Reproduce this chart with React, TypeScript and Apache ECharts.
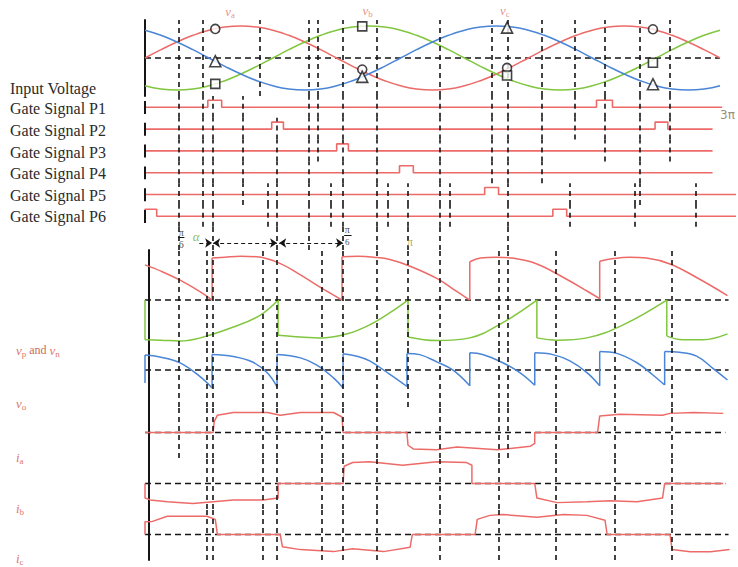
import React, { useEffect, useRef } from "react";
import * as echarts from "echarts";

// ωt sample points (degrees) for the three supply phases
const supplyAngles = [0, 15, 30, 45, 60, 75, 90, 105, 120, 135, 150, 165, 180, 195, 210, 225, 240, 255, 270, 285, 300, 315, 330, 345, 360, 375, 390, 405, 420, 435, 450, 465, 480, 495, 510, 525, 540];
const vaSupply = [0, 0.26, 0.5, 0.71, 0.87, 0.97, 1, 0.97, 0.87, 0.71, 0.5, 0.26, 0, -0.26, -0.5, -0.71, -0.87, -0.97, -1, -0.97, -0.87, -0.71, -0.5, -0.26, 0, 0.26, 0.5, 0.71, 0.87, 0.97, 1, 0.97, 0.87, 0.71, 0.5, 0.26, 0];
const vbSupply = [-0.87, -0.97, -1, -0.97, -0.87, -0.71, -0.5, -0.26, 0, 0.26, 0.5, 0.71, 0.87, 0.97, 1, 0.97, 0.87, 0.71, 0.5, 0.26, 0, -0.26, -0.5, -0.71, -0.87, -0.97, -1, -0.97, -0.87, -0.71, -0.5, -0.26, 0, 0.26, 0.5, 0.71, 0.87];
const vcSupply = [0.87, 0.71, 0.5, 0.26, 0, -0.26, -0.5, -0.71, -0.87, -0.97, -1, -0.97, -0.87, -0.71, -0.5, -0.26, 0, 0.26, 0.5, 0.71, 0.87, 0.97, 1, 0.97, 0.87, 0.71, 0.5, 0.26, 0, -0.26, -0.5, -0.71, -0.87, -0.97, -1, -0.97, -0.87];

// firing instants marked on the supply curves: [ωt, value]
const circleMarks = [[66, 0.91], [204, -0.36], [340, -0.31], [477, 0.9]];
const squareMarks = [[66, -0.81], [204, 0.99], [340, -0.55], [477, -0.15]];
const triangleMarks = [[66, -0.1], [204, -0.59], [340, 0.95], [477, -0.82]];

// gate pulses: [start, end] in degrees, and where each gate trace stops
const gateP1 = [[59, 72], [424, 439]];
const gateP2 = [[119, 130], [479, 491]];
const gateP3 = [[180, 191]];
const gateP4 = [[239, 252]];
const gateP5 = [[319, 332]];
const gateP6 = [[0, 11], [383, 396]];
const gateEnds = [542, 533, 533, 533, 555, 555];
const gateNames = ["P1", "P2", "P3", "P4", "P5", "P6"];

// positive and negative rail voltages, output voltage: [ωt, value]; a repeated ωt is a commutation jump
const railP = [[0, 0.78], [15, 0.64], [33, 0.44], [52, 0.18], [63, 0], [63, 0.93], [75, 0.95], [90, 0.97], [105, 0.96], [124, 0.84], [146, 0.56], [164, 0.29], [185, 0], [185, 0.96], [200, 0.97], [215, 0.95], [230, 0.9], [249, 0.75], [274, 0.48], [289, 0.25], [305, 0], [305, 0.85], [315, 0.93], [330, 0.95], [345, 0.93], [368, 0.8], [393, 0.5], [415, 0.2], [427, 0.03], [427, 0.86], [440, 0.92], [455, 0.95], [471, 0.93], [493, 0.8], [518, 0.5], [547, 0.1]];
const railN = [[0, 0], [0, -0.88], [15, -0.89], [33, -0.91], [52, -0.84], [83, -0.6], [108, -0.34], [125, 0], [125, -0.78], [146, -0.82], [167, -0.84], [190, -0.75], [211, -0.55], [230, -0.28], [247, 0], [247, -0.82], [274, -0.9], [305, -0.84], [336, -0.5], [368, 0], [368, -0.84], [387, -0.89], [415, -0.84], [449, -0.55], [490, 0], [490, -0.8], [505, -0.88], [524, -0.88], [547, -0.75]];
const outputV = [[0, -0.72], [0, 0.83], [14, 0.72], [33, 0.39], [52, -0.39], [63, -1], [63, 0.86], [83, 0.75], [101, 0.44], [115, -0.17], [124, -0.94], [124, 0.86], [146, 0.67], [161, 0.28], [177, -0.44], [186, -1], [186, 0.9], [200, 0.75], [211, 0.5], [230, -0.25], [246, -0.92], [246, 0.92], [258, 0.85], [274, 0.45], [289, 0], [305, -0.88], [305, 0.95], [317, 0.86], [336, 0.4], [352, -0.15], [366, -0.85], [366, 0.95], [383, 0.85], [399, 0.5], [415, -0.15], [427, -0.88], [427, 1.02], [443, 0.92], [462, 0.4], [477, -0.28], [488, -0.84], [488, 1.02], [502, 0.98], [518, 0.77], [533, 0.1], [547, -0.56]];

// phase currents: [ωt, value]
const currentA = [[0, 0], [64, 0], [65, 0.6], [68, 0.95], [83, 1.1], [115, 1.1], [127, 0.95], [146, 1.1], [177, 1.1], [185, 0.85], [186, 0], [246, 0], [247, -0.7], [252, -0.9], [274, -0.95], [293, -0.8], [331, -0.95], [362, -0.75], [366, -0.6], [366, 0], [425, 0], [427, 0.9], [446, 1.0], [486, 0.95], [493, 1.05], [515, 1.1], [543, 1.05]];
const currentB = [[0, 0], [0, -0.8], [5, -0.9], [21, -1.0], [45, -1.1], [83, -0.9], [111, -0.9], [125, -0.8], [125, 0], [186, 0], [187, 0.95], [195, 1.15], [211, 1.2], [242, 1.0], [274, 1.2], [302, 1.15], [307, 1.0], [307, 0], [366, 0], [368, -0.8], [387, -1.05], [415, -1.0], [437, -0.95], [462, -1.0], [486, -0.8], [488, 0], [543, 0]];
const currentC = [[0, 0], [0, 0.7], [7, 0.72], [21, 1.0], [45, 1.0], [58, 1.0], [66, 0.83], [68, 0], [127, 0], [129, -0.67], [146, -0.83], [177, -0.94], [195, -0.78], [224, -0.94], [249, -0.7], [251, 0], [310, 0], [312, 0.83], [324, 1.05], [336, 1.1], [368, 0.95], [393, 1.1], [415, 1.05], [432, 0.78], [434, 0], [493, 0], [495, -0.83], [512, -0.95], [531, -0.95], [549, -0.83]];

// dashed vertical guides: [ωt, first strip, last strip]
const guides = [
  [32, 0, 10], [54, 0, 6], [58, 8, 12], [64, 1, 12], [92, 1, 5], [108, 0, 0], [111, 8, 12],
  [115, 5, 6], [124, 2, 12], [154, 0, 7], [162, 0, 3], [166, 8, 12], [174, 5, 6], [186, 0, 12],
  [218, 0, 12], [228, 5, 6], [247, 5, 9], [277, 0, 12], [286, 5, 6], [326, 0, 4], [332, 8, 12],
  [341, 0, 10], [373, 0, 4], [386, 8, 12], [399, 5, 6], [404, 0, 2], [432, 0, 3], [441, 8, 12],
  [460, 5, 6], [465, 0, 5], [493, 0, 3], [495, 8, 12], [517, 5, 6],
];

const RED = "#ec6b68";
const GREEN = "#80c63e";
const BLUE = "#4a85d6";
const INK = "#151515";
const TAG = "#e0786a";
const SERIF = '"Liberation Serif", "DejaVu Serif", serif';

// strips stacked down the page: supply, six gates, annotation row, rails, output, three currents
const strips = [
  { top: 20, height: 76, min: -1.19, max: 1.19 },
  { top: 96, height: 21.8, min: -1.5, max: 1.61 },
  { top: 117.8, height: 21.8, min: -1.5, max: 1.61 },
  { top: 139.6, height: 21.8, min: -1.5, max: 1.61 },
  { top: 161.4, height: 21.8, min: -1.5, max: 1.61 },
  { top: 183.2, height: 21.8, min: -1.5, max: 1.61 },
  { top: 205, height: 21.8, min: -1.5, max: 1.61 },
  { top: 226.8, height: 23.2, min: -1, max: 1 },
  { top: 250, height: 96, min: -1.02, max: 1.11 },
  { top: 346, height: 61, min: -2.06, max: 1.33 },
  { top: 407, height: 51, min: -1.4, max: 1.4 },
  { top: 458, height: 51, min: -1.4, max: 1.4 },
  { top: 509, height: 51, min: -1.4, max: 1.4 },
];

function gateTrace(pulses: number[][], end: number) {
  const pts: number[][] = [[0, 0]];
  pulses.forEach(([s, e]) => {
    pts.push([s, 0], [s, 1], [e, 1], [e, 0]);
  });
  pts.push([end, 0]);
  return pts;
}

// split a waveform at its commutation jumps: smooth arcs plus straight vertical jumps
function splitAtJumps(data: number[][]) {
  const arcs: number[][][] = [];
  const jumps: any[] = [];
  let run: number[][] = [data[0]];
  for (let i = 1; i < data.length; i++) {
    if (data[i][0] === data[i - 1][0]) {
      if (run.length > 1) arcs.push(run);
      jumps.push(data[i - 1], data[i], [data[i][0], "-"]);
      run = [data[i]];
    } else {
      run.push(data[i]);
    }
  }
  if (run.length > 1) arcs.push(run);
  return { arcs, jumps };
}

const dashed = { color: INK, type: [5, 4] as number[], width: 1.6 };

function guideMark(strip: number, extra: any[] = []) {
  return {
    silent: true,
    symbol: "none",
    symbolSize: 7,
    label: { show: false },
    lineStyle: dashed,
    data: [
      ...guides.filter((g) => g[1] <= strip && strip <= g[2]).map((g) => ({ xAxis: g[0] })),
      ...extra,
    ],
  };
}

const subRich = (color: string, size = 14) => ({
  v: { fontFamily: SERIF, fontStyle: "italic", fontSize: size, color },
  s: { fontFamily: SERIF, fontSize: size * 0.68, color, padding: [size * 0.55, 0, 0, 0] },
});

function baseline(strip: number, end: number, extra: any[] = []) {
  return {
    type: "line",
    xAxisIndex: strip,
    yAxisIndex: strip,
    data: [[0, 0], [end, 0]],
    symbol: "none",
    lineStyle: { color: INK, type: [6, 4], width: 1.4 },
    markLine: guideMark(strip, extra),
    z: 1,
  };
}

function trace(strip: number, data: any[], color: string, smooth: boolean | number = false) {
  return {
    type: "line",
    xAxisIndex: strip,
    yAxisIndex: strip,
    data,
    smooth,
    symbol: "none",
    connectNulls: false,
    lineStyle: { color, width: 1.5 },
    z: 3,
  };
}

function smoothWave(strip: number, data: number[][], color: string) {
  const { arcs, jumps } = splitAtJumps(data);
  return [
    ...arcs.map((arc) => trace(strip, arc, color, 0.4)),
    trace(strip, jumps, color),
  ];
}

function marks(data: number[][], symbol: string, size: number) {
  return {
    type: "scatter",
    xAxisIndex: 0,
    yAxisIndex: 0,
    data,
    symbol,
    symbolSize: size,
    itemStyle: { color: "#ffffff", borderColor: INK, borderWidth: 1.6 },
    z: 5,
  };
}

function tags(strip: number, items: any[], label: any) {
  return {
    type: "scatter",
    xAxisIndex: strip,
    yAxisIndex: strip,
    clip: false,
    symbolSize: 0,
    silent: true,
    data: items,
    label: { show: true, position: "inside", ...label },
    z: 6,
  };
}

function buildOption() {
  const series: any[] = [];

  // supply voltages
  series.push(baseline(0, 540));
  series.push(trace(0, supplyAngles.map((a, i) => [a, vaSupply[i]]), RED, true));
  series.push(trace(0, supplyAngles.map((a, i) => [a, vbSupply[i]]), GREEN, true));
  series.push(trace(0, supplyAngles.map((a, i) => [a, vcSupply[i]]), BLUE, true));
  series.push(marks(circleMarks, "circle", 9));
  series.push(marks(squareMarks, "rect", 9));
  series.push(marks(triangleMarks, "triangle", 11));
  series.push(
    tags(
      0,
      [
        { value: [80, 1.45], label: { formatter: "{v|v}{s|a}" } },
        { value: [209, 1.48], label: { formatter: "{v|v}{s|b}" } },
        { value: [338, 1.5], label: { formatter: "{v|v}{s|c}" } },
      ],
      { rich: subRich(TAG, 13) }
    )
  );

  // gate signals
  [gateP1, gateP2, gateP3, gateP4, gateP5, gateP6].forEach((pulses, i) => {
    const strip = i + 1;
    series.push({
      type: "line",
      xAxisIndex: strip,
      yAxisIndex: strip,
      data: gateTrace(pulses, gateEnds[i]),
      symbol: "none",
      lineStyle: { color: RED, width: 1.6 },
      markLine: guideMark(strip, [
        [
          { coord: [0, -0.95], lineStyle: { color: INK, type: "solid", width: 2 } },
          { coord: [0, 0.9] },
        ],
      ]),
      z: 3,
    });
  });
  series.push(
    tags(1, [{ value: [547, -1.1], label: { formatter: "3π" } }], {
      color: "#7d7150",
      fontSize: 12,
      fontFamily: '"DejaVu Sans", sans-serif',
    })
  );

  // annotation row: firing delay and conduction intervals
  const arrowStyle = { color: INK, type: [4, 3], width: 1.2 };
  const barStyle = { color: INK, type: "solid", width: 1 };
  series.push({
    type: "line",
    xAxisIndex: 7,
    yAxisIndex: 7,
    data: [],
    symbol: "none",
    markLine: guideMark(7, [
      [{ coord: [51, -0.4], symbol: "none", lineStyle: arrowStyle }, { coord: [63, -0.4], symbol: "arrow" }],
      [{ coord: [64, -0.4], symbol: "arrow", lineStyle: arrowStyle }, { coord: [124, -0.4], symbol: "arrow" }],
      [{ coord: [126, -0.4], symbol: "arrow", lineStyle: arrowStyle }, { coord: [186, -0.4], symbol: "arrow" }],
      [{ coord: [31, 0.1], symbol: "none", lineStyle: barStyle }, { coord: [37, 0.1], symbol: "none" }],
      [{ coord: [187, 0.25], symbol: "none", lineStyle: barStyle }, { coord: [194, 0.25], symbol: "none" }],
    ]),
  });
  series.push(
    tags(
      7,
      [
        { value: [34, 0.55], label: { formatter: "π", fontSize: 10, color: INK } },
        { value: [34, -0.5], label: { formatter: "6", fontSize: 10, color: INK } },
        { value: [48, 0.2], label: { formatter: "α", fontSize: 13, color: "#6fae3c", fontStyle: "italic" } },
        { value: [190, 0.75], label: { formatter: "π", fontSize: 10, color: INK } },
        { value: [190, -0.3], label: { formatter: "6", fontSize: 9, color: INK } },
        { value: [249, -0.35], label: { formatter: "π", fontSize: 12, color: "#a99a45" } },
      ],
      { fontFamily: SERIF }
    )
  );

  // rail voltages and output voltage
  series.push(baseline(8, 548));
  series.push(...smoothWave(8, railP, RED));
  series.push(...smoothWave(8, railN, GREEN));
  series.push(baseline(9, 548));
  series.push(...smoothWave(9, outputV, BLUE));

  // phase currents
  series.push(baseline(10, 545));
  series.push(trace(10, currentA, RED));
  series.push(baseline(11, 545));
  series.push(trace(11, currentB, RED));
  series.push(baseline(12, 548));
  series.push(trace(12, currentC, RED));

  const leftLabels = ["Input Voltage", ...gateNames.map((p) => "Gate Signal " + p)];
  const leftLabelY = [88, 108, 130, 152, 173, 195, 216];

  const lowerTags = [
    { text: "{v|v}{s|p}{t| and }{v|v}{s|n}", y: 350 },
    { text: "{v|v}{s|o}", y: 403 },
    { text: "{v|i}{s|a}", y: 457 },
    { text: "{v|i}{s|b}", y: 508 },
    { text: "{v|i}{s|c}", y: 558 },
  ];

  return {
    animation: false,
    backgroundColor: "#ffffff",
    grid: strips.map((s) => ({ left: 145, width: 591, top: s.top, height: s.height })),
    xAxis: strips.map((_, i) => ({ gridIndex: i, type: "value", min: 0, max: 555, show: false })),
    yAxis: strips.map((s, i) => ({
      gridIndex: i,
      type: "value",
      min: s.min,
      max: s.max,
      offset: i >= 8 ? -4 : 0,
      splitLine: { show: false },
      axisTick: { show: false },
      axisLabel: { show: false },
      axisLine: { show: i === 0 || i >= 8, onZero: false, lineStyle: { color: INK, width: 2 } },
    })),
    series,
    graphic: [
      ...leftLabels.map((t, i) => ({
        type: "text",
        x: 10,
        y: leftLabelY[i],
        style: {
          text: t,
          fontFamily: SERIF,
          fontSize: 16,
          fill: "#2b2b2b",
          verticalAlign: "middle",
        },
      })),
      ...lowerTags.map((t) => ({
        type: "text",
        x: 16,
        y: t.y,
        style: {
          text: t.text,
          verticalAlign: "middle",
          rich: {
            v: { fontFamily: SERIF, fontStyle: "italic", fontSize: 13, fill: TAG },
            s: { fontFamily: SERIF, fontSize: 9, fill: TAG, padding: [7, 0, 0, 0] },
            t: { fontFamily: SERIF, fontSize: 12, fill: "#c86a5e" },
          },
        },
      })),
    ],
  };
}

export default function App() {
  const ref = useRef<HTMLDivElement>(null);
  useEffect(() => {
    const chart = echarts.init(ref.current!, null, { renderer: "svg" });
    chart.setOption(buildOption() as any);
    return () => chart.dispose();
  }, []);
  return (
    <div
      ref={ref}
      style={{ position: "absolute", left: 0, top: 0, width: 738, height: 567, background: "#fff" }}
    />
  );
}
